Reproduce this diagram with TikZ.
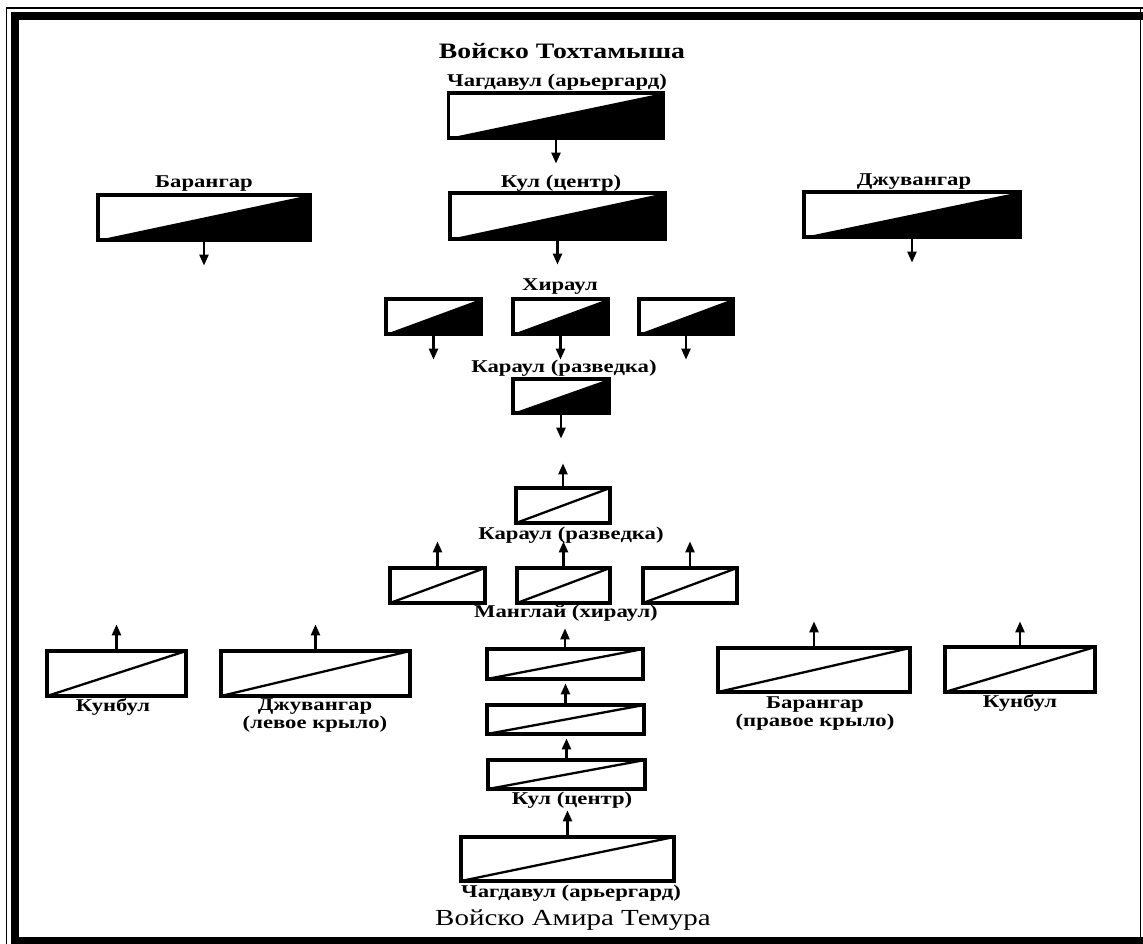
\documentclass[tikz,border=0pt]{standalone}
\usepackage{fontspec}
\setmainfont{Liberation Serif}
\newfontfamily\wideserif[FakeStretch=1.26]{Liberation Serif}
\usepackage{tikz}
\usetikzlibrary{arrows.meta,positioning}
\definecolor{inkblack}{RGB}{0,0,0}

\tikzset{
  unitname/.style={font=\wideserif\bfseries\fontsize{18}{18}\selectfont, inner sep=0pt, align=center},
  armyname/.style={font=\wideserif\fontsize{23}{24}\selectfont, inner sep=0pt},
  hordebox/.style 2 args={draw, inkblack, line width=3.2pt, inner sep=0pt,
    minimum width=#1, minimum height=#2, path picture={
      \fill[inkblack] (path picture bounding box.south west) -- (path picture bounding box.north east)
        -- (path picture bounding box.south east) -- cycle;}},
  amirbox/.style 2 args={draw, inkblack, line width=3.2pt, inner sep=0pt,
    minimum width=#1, minimum height=#2, path picture={
      \draw[line width=2.3pt] (path picture bounding box.south west) -- (path picture bounding box.north east);}},
  arr/.style={-{Triangle[length=11pt,width=9pt]}, line width=2.4pt, inkblack}
}

\begin{document}
\begin{tikzpicture}[x=1pt, y=-1pt]
\useasboundingbox (0,0) rectangle (1143,944);

% Page frame
\draw[line width=1.2pt] (6.5,944) -- (6.5,8) -- (1143,8);
\fill[inkblack] (11,12) rectangle (1143,20);
\fill[inkblack] (11,12) rectangle (19,944);
\fill[inkblack] (11,937) rectangle (1143,944);
\draw[line width=1.5pt] (1140.5,8) -- (1140.5,944);

% Army of Tokhtamysh (top, moving down)
\node[armyname, font=\wideserif\bfseries\fontsize{22}{24}\selectfont] (tokhtitle) at (562,51) {Войско Тохтамыша};

\foreach \n/\x/\y/\w/\h in {chag/556/115.5/215/45, bar/204/217.5/212/45, kul/557.5/216/215/46,
    dzh/912/214.5/216/45, hir1/433.5/316.5/95/35, hir2/560.5/316.5/95/35,
    hir3/686/316.5/94/35, kar/561/396/96/34}
  \node[hordebox={\w pt}{\h pt}] (\n) at (\x,\y) {};

\foreach \n in {chag,bar,kul,dzh,hir1,hir2,hir3,kar} {
  \path (\n.south) ++(0,24) coordinate (\n-tip);
  \draw[arr] (\n.south) -- (\n-tip);
}

\node[unitname] (chaglab) at (557,82) {Чагдавул (арьергард)};
\node[unitname] (barlab) at (204,184) {Барангар};
\node[unitname] (kullab) at (561,183) {Кул (центр)};
\node[unitname] (dzhlab) at (914,182) {Джувангар};
\node[unitname] (hirlab) at (560,287) {Хираул};
\node[unitname] (karlab) at (564,368) {Караул (разведка)};

% Army of Amir Temur (bottom, moving up)
\foreach \n/\x/\y/\w/\h in {kartwo/563/505.5/94/35, mang1/437.5/585.5/95/35, mang2/563.5/585.5/93/35,
    mang3/690/585.5/94/35, kunl/116.5/673.5/139/45, dzhtwo/315.5/673.5/189/45,
    cen1/565/664/156/30, cen2/565.5/719.5/157/29, cen3/566.5/774.5/157/29,
    chagtwo/567.5/859/213/44, bartwo/814/670/192/44, kunr/1020/669.5/150/45}
  \node[amirbox={\w pt}{\h pt}] (\n) at (\x,\y) {};

\foreach \n/\len in {kartwo/23, mang1/25, mang2/25, mang3/25, kunl/25, dzhtwo/25,
    cen1/19, cen2/20, cen3/20, chagtwo/25, bartwo/25, kunr/24} {
  \path (\n.north) ++(0,-\len) coordinate (\n-tip);
  \draw[arr] (\n.north) -- (\n-tip);
}

\node[unitname] (kartwolab) at (571,535) {Караул (разведка)};
\node[unitname] (manglab) at (566,613) {Манглай (хираул)};
\node[unitname] (kunllab) at (113,707) {Кунбул};
\node[unitname] (dzhtwolab) at (315,716) {Джувангар\\(левое крыло)};
\node[unitname] (kullabtwo) at (572,800) {Кул (центр)};
\node[unitname] (chagtwolab) at (571,893) {Чагдавул (арьергард)};
\node[unitname] (bartwolab) at (815,714) {Барангар\\(правое крыло)};
\node[unitname] (kunrlab) at (1020,703) {Кунбул};
\node[armyname] (temurtitle) at (573,920) {Войско Амира Темура};
\end{tikzpicture}
\end{document}
